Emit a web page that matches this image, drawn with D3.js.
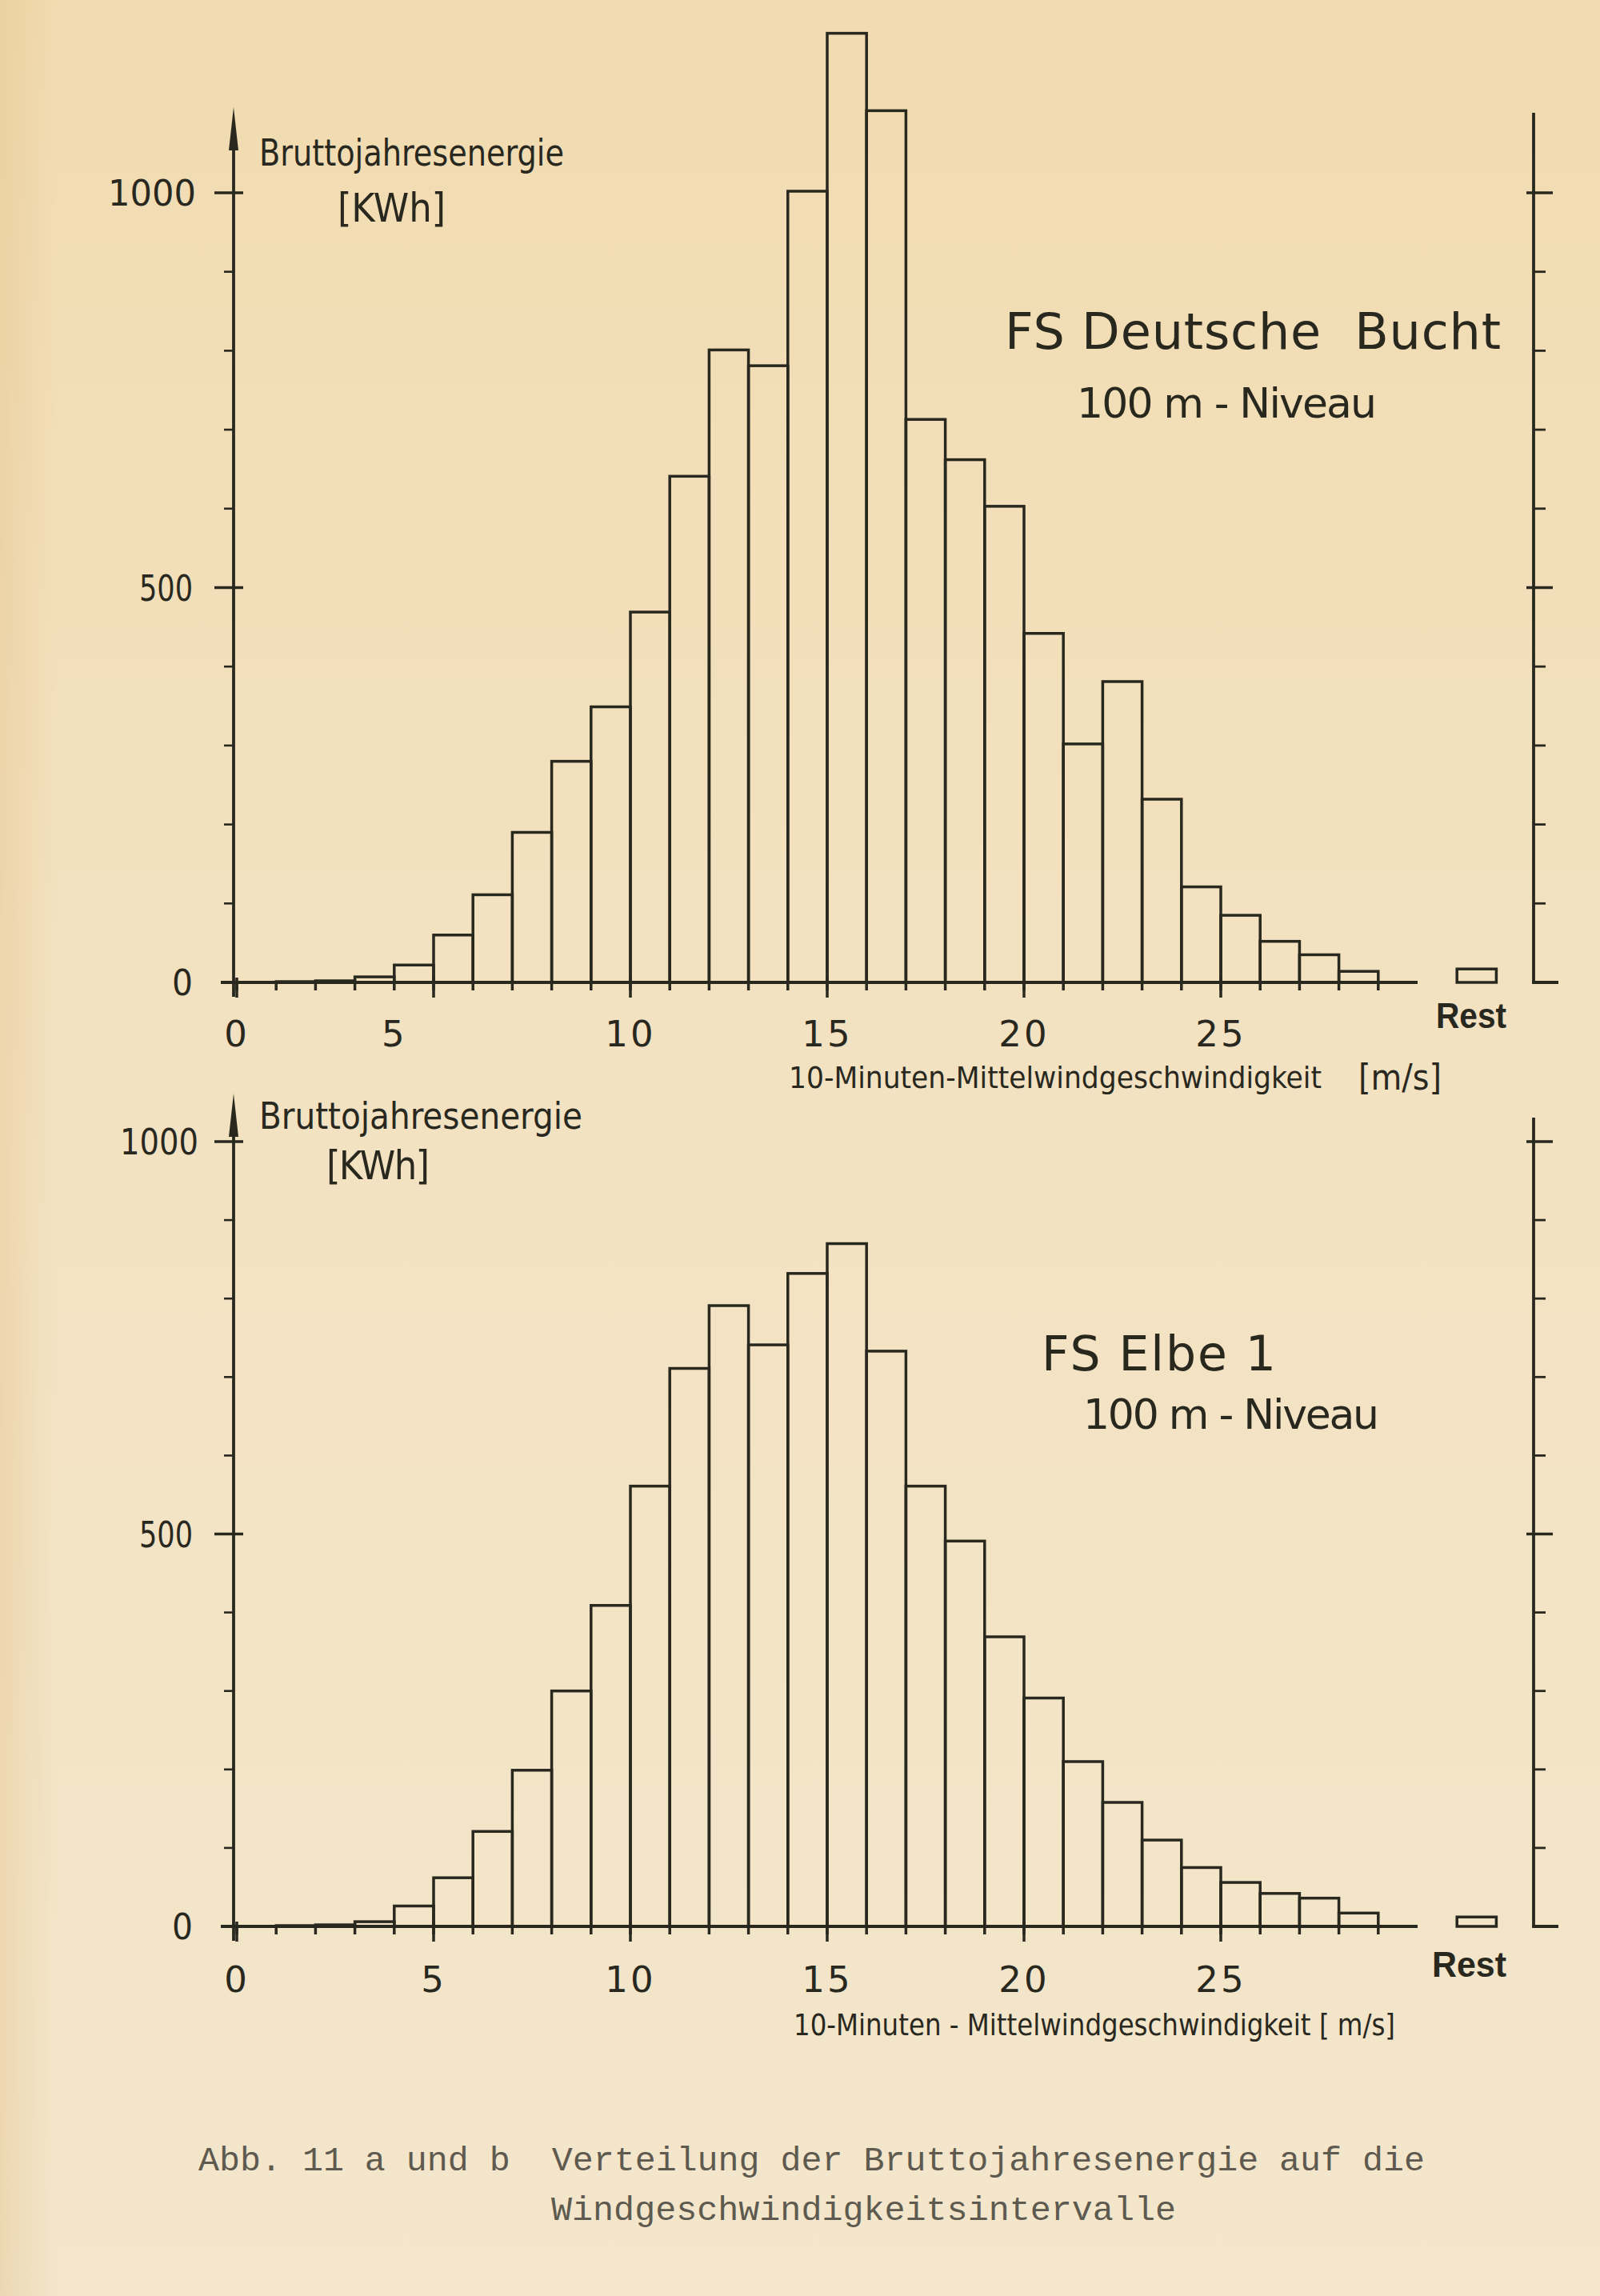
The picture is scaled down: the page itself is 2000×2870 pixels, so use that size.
<!DOCTYPE html>
<html>
<head>
<meta charset="utf-8">
<script src="https://cdn.jsdelivr.net/npm/d3@7"></script>
<style>
  html, body { margin: 0; padding: 0; background: #f2e3c4; }
  svg { display: block; }
  text { white-space: pre; }
</style>
</head>
<body>
<svg id="chart" width="2000" height="2870"></svg>
<script>
// wind speed classes (lower bound, m/s) and gross annual energy per class [kWh]
const speedBins = [0,1,2,3,4,5,6,7,8,9,10,11,12,13,14,15,16,17,18,19,20,21,22,23,24,25,26,27,28];
const energyDeutscheBucht = [0,1,2,7,22,60,111,190,280,349,469,641,801,781,1002,1202,1104,713,662,603,442,302,381,232,121,85,52,35,14];
const energyElbe1 = [0,1,2,6,26,62,121,199,300,409,561,711,791,741,832,870,733,561,491,369,291,210,158,110,75,56,42,36,17];
const restDeutscheBucht = 17;
const restElbe1 = 12;

// axis ticks and labels
const xMinorTicks = [0,1,2,3,4,5,6,7,8,9,10,11,12,13,14,15,16,17,18,19,20,21,22,23,24,25,26,27,28,29];
const xMajorTicks = [0,5,10,15,20,25];
const xTickLabels = ['0','5','10','15','20','25'];
const xLabelPosTop = [0,4,10,15,20,25];   // the "5" sits under the 4-tick in the original lettering
const xLabelPosBottom = [0,5,10,15,20,25];
const yMajorTicks = [0,500,1000];
const yMinorTicks = [100,200,300,400,600,700,800,900];
const yTickLabels = ['0','500','1000'];

const INK = '#29281f';
const SANS = '"DejaVu Sans", "Noto Sans", sans-serif';
const COND = '"DejaVu Sans Condensed", "DejaVu Sans", sans-serif';

const svg = d3.select('#chart');

// paper
const defs = svg.append('defs');
const pg = defs.append('linearGradient').attr('id','paper').attr('x1',0).attr('y1',0).attr('x2',0).attr('y2',1);
pg.append('stop').attr('offset','0%').attr('stop-color','#f1dbb0');
pg.append('stop').attr('offset','45%').attr('stop-color','#f3e2c1');
pg.append('stop').attr('offset','100%').attr('stop-color','#f3e6cb');
const edge = defs.append('linearGradient').attr('id','edge').attr('x1',0).attr('y1',0).attr('x2',1).attr('y2',0);
edge.append('stop').attr('offset','0%').attr('stop-color','#e2bd86').attr('stop-opacity',0.35);
edge.append('stop').attr('offset','100%').attr('stop-color','#e2bd86').attr('stop-opacity',0);
svg.append('rect').attr('width',2000).attr('height',2870).attr('fill','url(#paper)');
svg.append('rect').attr('width',70).attr('height',2870).attr('fill','url(#edge)');

const x = d3.scaleLinear().domain([0, 30]).range([296, 1772]);

const panels = [
  {
    energy: energyDeutscheBucht, rest: restDeutscheBucht, labelPos: xLabelPosTop,
    y0: 1228, y1000: 241, arrowTop: 134, rightTop: 141,
    yLabelRight: [241, 241, 245], yLabelWidth: [26, 67, 110],
    quantity: { x0: 324, x1: 705, base: 207, size: 46 },
    unit: { x0: 422, x1: 557, base: 277, size: 50 },
    title: { text: 'FS Deutsche  Bucht', x0: 1256, x1: 1876, base: 436, size: 62 },
    sub: { text: '100 m - Niveau', x0: 1346, x1: 1721, base: 522, size: 52 },
    tickBase: 1308,
    restLabel: { x0: 1795, x1: 1883, base: 1285 },
    xTitle: [
      { text: '10-Minuten-Mittelwindgeschwindigkeit', x0: 986, x1: 1652, base: 1360, size: 38 },
      { text: '[m/s]', x0: 1698, x1: 1802, base: 1362, size: 44 }
    ]
  },
  {
    energy: energyElbe1, rest: restElbe1, labelPos: xLabelPosBottom,
    y0: 2408, y1000: 1427, arrowTop: 1367, rightTop: 1397,
    yLabelRight: [241, 241, 248], yLabelWidth: [26, 67, 98],
    quantity: { x0: 324, x1: 728, base: 1411, size: 46 },
    unit: { x0: 408, x1: 537, base: 1474, size: 50 },
    title: { text: 'FS Elbe 1', x0: 1302, x1: 1595, base: 1713, size: 60 },
    sub: { text: '100 m - Niveau', x0: 1354, x1: 1724, base: 1786, size: 52 },
    tickBase: 2490,
    restLabel: { x0: 1790, x1: 1883, base: 2471 },
    xTitle: [
      { text: '10-Minuten - Mittelwindgeschwindigkeit [ m/s]', x0: 992, x1: 1744, base: 2544, size: 38 }
    ]
  }
];

function fitText(g, str, x0, x1, base, size, family, weight, adjust) {
  return g.append('text')
    .attr('x', x0).attr('y', base)
    .attr('textLength', x1 - x0).attr('lengthAdjust', adjust || 'spacingAndGlyphs')
    .attr('font-family', family || COND)
    .attr('font-size', size)
    .attr('font-weight', weight || 400)
    .attr('fill', INK)
    .text(str);
}

panels.forEach(p => {
  const y = d3.scaleLinear().domain([0, 1000]).range([p.y0, p.y1000]);
  const g = svg.append('g');
  const ln = (x1, y1, x2, y2, w) => g.append('line')
    .attr('x1', x1).attr('y1', y1).attr('x2', x2).attr('y2', y2)
    .attr('stroke', INK).attr('stroke-width', w || 3.5).attr('stroke-linecap', 'butt');

  // bars
  g.selectAll('rect.bar').data(speedBins).join('rect')
    .attr('class', 'bar')
    .attr('x', d => x(d))
    .attr('width', d => x(d + 1) - x(d))
    .attr('y', (d, i) => y(p.energy[i]))
    .attr('height', (d, i) => p.y0 - y(p.energy[i]))
    .attr('fill', 'none').attr('stroke', INK).attr('stroke-width', 3.5);

  // rest class, drawn apart beyond the axis end
  g.append('rect')
    .attr('x', x(31)).attr('width', x(32) - x(31))
    .attr('y', y(p.rest)).attr('height', p.y0 - y(p.rest))
    .attr('fill', 'none').attr('stroke', INK).attr('stroke-width', 3.5);

  // x axis
  ln(276, p.y0, x(30), p.y0, 3.8);
  xMinorTicks.forEach(v => ln(x(v), p.y0, x(v), p.y0 + 10));
  xMajorTicks.forEach(v => ln(x(v), p.y0 - 6, x(v), p.y0 + 19));
  g.selectAll('text.xl').data(xTickLabels).join('text')
    .attr('class', 'xl')
    .attr('x', (d, i) => x(p.labelPos[i]))
    .attr('y', p.tickBase)
    .attr('text-anchor', 'middle')
    .attr('font-family', SANS).attr('font-size', 45).attr('fill', INK)
    .attr('letter-spacing', 3)
    .text(d => d);

  // left y axis with arrow
  const ax = x(0) - 4;
  ln(ax, p.y0 + 18, ax, p.arrowTop + 40, 3.8);
  g.append('path')
    .attr('d', `M${ax},${p.arrowTop} L${ax + 6},${p.arrowTop + 54} L${ax - 6},${p.arrowTop + 54} Z`)
    .attr('fill', INK);
  yMajorTicks.filter(v => v > 0).forEach(v => ln(ax - 24, y(v), ax + 12, y(v)));
  yMinorTicks.forEach(v => ln(ax - 12, y(v), ax, y(v), 2.6));
  g.selectAll('text.yl').data(yTickLabels).join('text')
    .attr('class', 'yl')
    .attr('x', (d, i) => p.yLabelRight[i] - p.yLabelWidth[i])
    .attr('y', (d, i) => y(yMajorTicks[i]) + 16)
    .attr('textLength', (d, i) => p.yLabelWidth[i]).attr('lengthAdjust', 'spacingAndGlyphs')
    .attr('font-family', SANS).attr('font-size', 44).attr('fill', INK)
    .text(d => d);

  // right y axis
  const rx = 1917;
  ln(rx, p.rightTop, rx, p.y0 + 1.7, 3.8);
  ln(rx - 1.7, p.y0, rx + 31, p.y0, 3.8);
  yMinorTicks.forEach(v => ln(rx, y(v), rx + 15, y(v), 2.8));
  yMajorTicks.filter(v => v > 0).forEach(v => ln(rx - 9, y(v), rx + 24, y(v)));

  // labels
  fitText(g, 'Bruttojahresenergie', p.quantity.x0, p.quantity.x1, p.quantity.base, p.quantity.size);
  fitText(g, '[KWh]', p.unit.x0, p.unit.x1, p.unit.base, p.unit.size, COND, 400, 'spacing');
  fitText(g, p.title.text, p.title.x0, p.title.x1, p.title.base, p.title.size, SANS, 400, 'spacing');
  fitText(g, p.sub.text, p.sub.x0, p.sub.x1, p.sub.base, p.sub.size, SANS, 400, 'spacing');
  fitText(g, 'Rest', p.restLabel.x0, p.restLabel.x1, p.restLabel.base, 44, '"Liberation Sans", Arial, sans-serif', 700);
  p.xTitle.forEach(t => fitText(g, t.text, t.x0, t.x1, t.base, t.size, COND));
});

// typewritten caption
const cap = svg.append('g')
  .attr('font-family', '"Liberation Mono", "DejaVu Sans Mono", monospace')
  .attr('font-size', 43).attr('fill', '#5e5a4f');
cap.append('text').attr('x', 248).attr('y', 2713)
  .attr('textLength', 1533).attr('lengthAdjust', 'spacingAndGlyphs')
  .text('Abb. 11 a und b  Verteilung der Bruttojahresenergie auf die');
cap.append('text').attr('x', 689).attr('y', 2775)
  .attr('textLength', 781).attr('lengthAdjust', 'spacingAndGlyphs')
  .text('Windgeschwindigkeitsintervalle');
</script>
</body>
</html>
